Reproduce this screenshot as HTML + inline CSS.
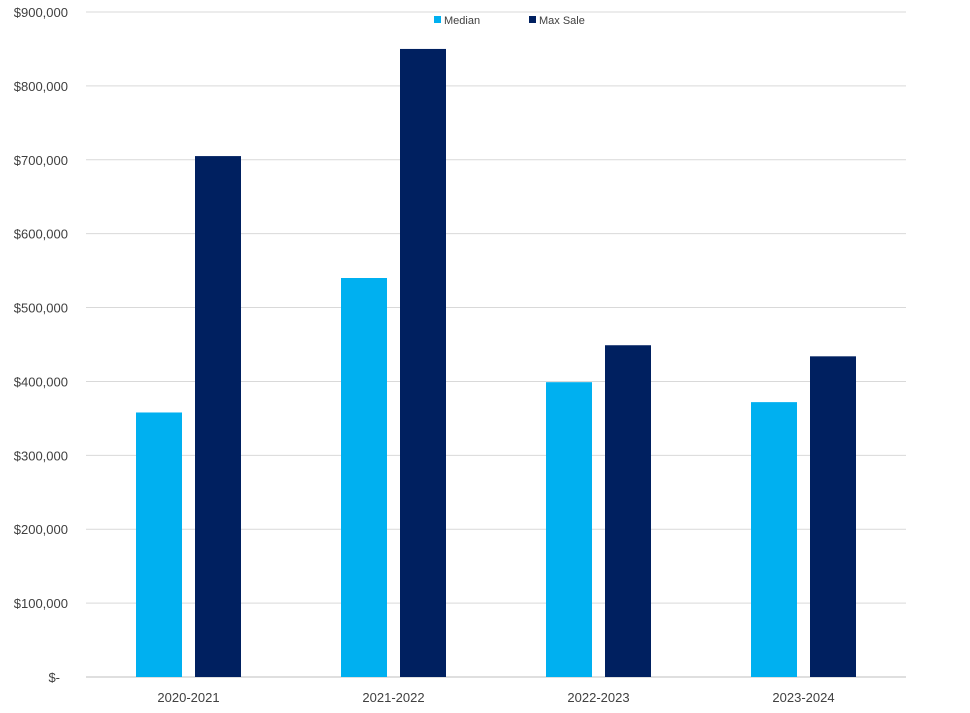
<!DOCTYPE html>
<html><head><meta charset="utf-8"><style>
body{margin:0;background:#fff;font-family:"Liberation Sans",Arial,sans-serif;}
svg text{font-family:"Liberation Sans",Arial,sans-serif;fill:#404040;}
</style></head><body>
<svg id="chart" width="970" height="708" xmlns="http://www.w3.org/2000/svg">
<g id="grid"></g>
<g id="yaxis"></g>
<g id="bars"></g>
<g id="xaxis"></g>
<g>
<rect x="434" y="16" width="7" height="7" fill="#00B0F0"/>
<text x="444" y="24" font-size="11">Median</text>
<rect x="529" y="16" width="7" height="7" fill="#002060"/>
<text x="539" y="24" font-size="11">Max Sale</text>
</g>
</svg>
<script>
const categories=["2020-2021","2021-2022","2022-2023","2023-2024"];
const medianValues=[358000,540000,399000,372000];
const maxValues=[705000,850000,449000,434000];
const yTicks=[0,100000,200000,300000,400000,500000,600000,700000,800000,900000];
const yTickLabels=["$-","$100,000","$200,000","$300,000","$400,000","$500,000","$600,000","$700,000","$800,000","$900,000"];
const NS="http://www.w3.org/2000/svg";
const x0=86,x1=906,yTop=12,yBot=677,yMax=900000;
const y=v=>yBot-(v/yMax)*(yBot-yTop);
const band=(x1-x0)/categories.length;
function mk(tag,attrs,parent){const e=document.createElementNS(NS,tag);for(const k in attrs)e.setAttribute(k,attrs[k]);parent.appendChild(e);return e;}
const grid=document.getElementById('grid'),ya=document.getElementById('yaxis'),bars=document.getElementById('bars'),xa=document.getElementById('xaxis');
yTicks.forEach((t,i)=>{
  const l=mk('line',{x1:x0,x2:x1,y1:y(t),y2:y(t),stroke:i===0?'#bfbfbf':'#d9d9d9','stroke-width':1},grid);
  
  
  const tx=mk('text',{x:i===0?60:68,y:y(t)+5,'text-anchor':i===0?'end':'end','font-size':13},ya);
  
  
  tx.textContent=yTickLabels[i];
});
categories.forEach((c,i)=>{
  const cx=x0+band*(i+0.5);
  const w=46,gap=13;
  const b1=mk('rect',{x:cx-gap/2-w,y:y(medianValues[i]),width:w,height:yBot-y(medianValues[i]),fill:'#00B0F0'},bars);
  
  
  const b2=mk('rect',{x:cx+gap/2,y:y(maxValues[i]),width:w,height:yBot-y(maxValues[i]),fill:'#002060'},bars);
  
  
  const t=mk('text',{x:cx,y:702,'text-anchor':'middle','font-size':13},xa);
  
  
  t.textContent=c;
});
</script>
</body></html>
